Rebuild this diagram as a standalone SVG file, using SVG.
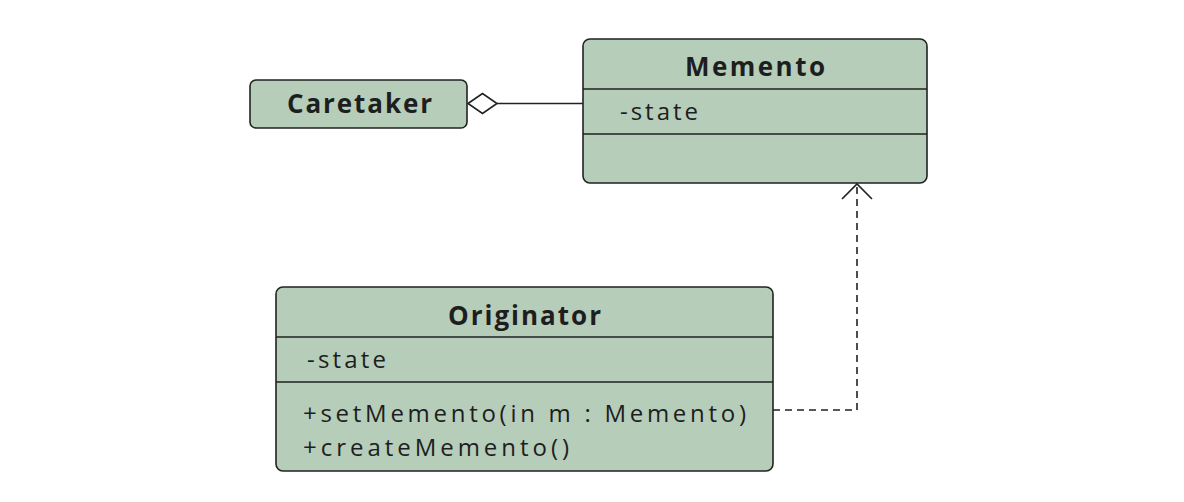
<svg xmlns="http://www.w3.org/2000/svg" width="1184" height="502" viewBox="0 0 1184 502">
<style>
.box{fill:#b5cdb9;stroke:#222;stroke-width:1.6}
.sep{stroke:#222;stroke-width:1.6}
.t{font-family:"Open Sans","Liberation Sans",sans-serif;font-weight:700;font-size:26px;fill:#1e1e1e}
.a{font-family:"Open Sans","Liberation Sans",sans-serif;font-weight:400;font-size:24px;fill:#1e1e1e}
.c{fill:none;stroke:#222;stroke-width:1.6}
</style>
<rect width="1184" height="502" fill="#fff"/>
<g id="connectors">
<path class="c" d="M497,103.5 H583"/>
<polygon points="468,103.5 482.5,93.5 497,103.5 482.5,113.5" fill="#fff" stroke="#222" stroke-width="1.6"/>
<path class="c" d="M773,410 H857 V184" stroke-dasharray="7,5"/>
<path class="c" d="M842,199 L857,184 L872,199"/>
</g>
<g id="caretaker">
<rect class="box" x="250" y="80" width="217" height="48" rx="6"/>
<text class="t" x="287" y="113" textLength="145" lengthAdjust="spacing">Caretaker</text>
</g>
<g id="memento">
<rect class="box" x="583" y="39" width="344" height="144" rx="7"/>
<line class="sep" x1="583" y1="89" x2="927" y2="89"/>
<line class="sep" x1="583" y1="134" x2="927" y2="134"/>
<text class="t" x="685" y="76" textLength="140" lengthAdjust="spacing">Memento</text>
<text class="a" x="620" y="120" textLength="78" lengthAdjust="spacing">-state</text>
</g>
<g id="originator">
<rect class="box" x="276" y="287" width="497" height="184" rx="7"/>
<line class="sep" x1="276" y1="337" x2="773" y2="337"/>
<line class="sep" x1="276" y1="382" x2="773" y2="382"/>
<text class="t" x="448" y="325" textLength="153" lengthAdjust="spacing">Originator</text>
<text class="a" x="307" y="368" textLength="79" lengthAdjust="spacing">-state</text>
<text class="a" x="303" y="422" textLength="443" lengthAdjust="spacing">+setMemento(in m : Memento)</text>
<text class="a" x="303" y="456" textLength="266" lengthAdjust="spacing">+createMemento()</text>
</g>
</svg>
